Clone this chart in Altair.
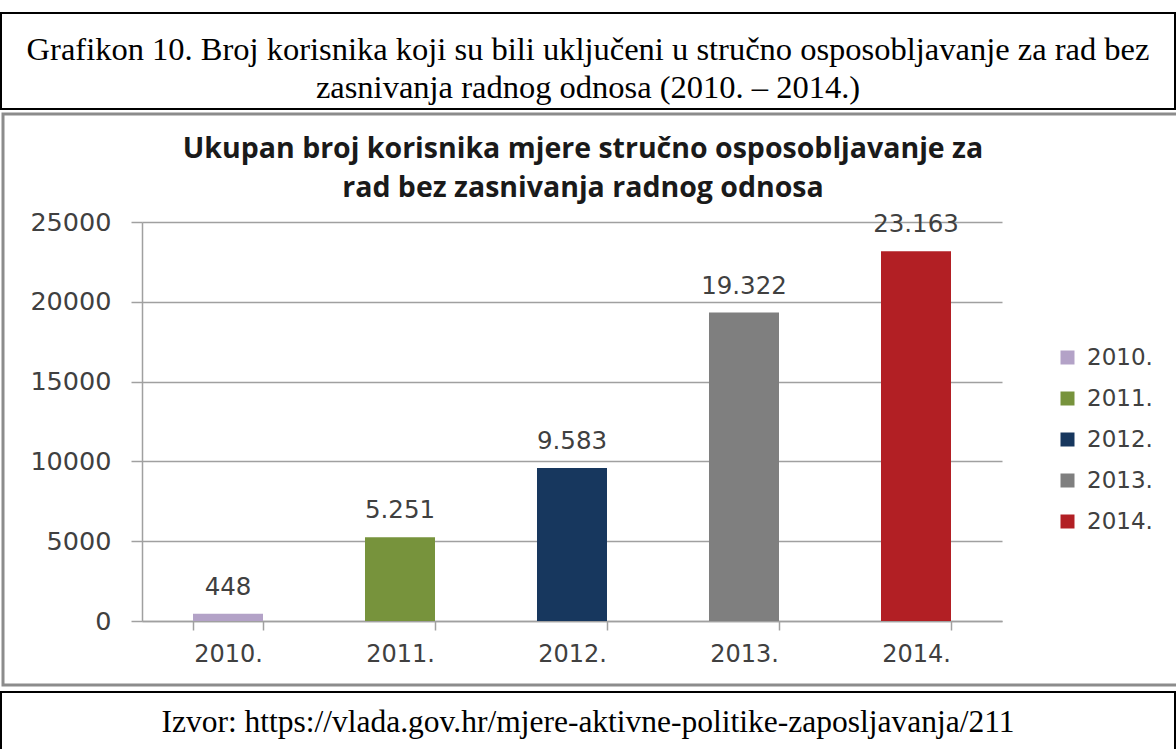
import altair as alt
import pandas as pd

years = ["2010.", "2011.", "2012.", "2013.", "2014."]
values = [448, 5251, 9583, 19322, 23163]
value_labels = ["448", "5.251", "9.583", "19.322", "23.163"]
colors = ["#b3a2c7", "#77933c", "#17375e", "#7f7f7f", "#b21f24"]
y_ticks = [0, 5000, 10000, 15000, 20000, 25000]

caption_lines = [
    "Grafikon 10. Broj korisnika koji su bili uključeni u stručno osposobljavanje za rad bez",
    "zasnivanja radnog odnosa (2010. – 2014.)",
]
chart_title_lines = [
    "Ukupan broj korisnika mjere stručno osposobljavanje za",
    "rad bez zasnivanja radnog odnosa",
]
source_text = "Izvor: https://vlada.gov.hr/mjere-aktivne-politike-zaposljavanja/211"

df = pd.DataFrame({"year": years, "value": values, "label": value_labels})
one = pd.DataFrame({"k": [0]})

AX_FONT = "DejaVu Sans"
LBL_COLOR = "#404040"

x_enc = alt.X(
    "year:N",
    sort=years,
    scale=alt.Scale(paddingInner=0.593, paddingOuter=0.2965),
    axis=alt.Axis(
        title=None, labelAngle=0, tickBand="extent", labelFont=AX_FONT,
        labelFontSize=24, labelColor=LBL_COLOR, labelPadding=12, tickSize=9,
        tickColor="#a0a0a0", domainColor="#a0a0a0", tickWidth=1.5, domainWidth=1.5,
        grid=False,
    ),
)
y_enc = alt.Y(
    "value:Q",
    scale=alt.Scale(domain=[0, 25000], nice=False),
    axis=alt.Axis(
        title=None, values=y_ticks, format="d", labelFont=AX_FONT, labelFontSize=25.5,
        labelColor=LBL_COLOR, labelPadding=20, tickSize=11, tickColor="#a0a0a0",
        domainColor="#a0a0a0", gridColor="#a0a0a0", tickWidth=1.5, domainWidth=1.5,
        gridWidth=1.5,
    ),
)

bars = alt.Chart(df).mark_bar(opacity=1).encode(
    x=x_enc,
    y=y_enc,
    color=alt.Color(
        "year:N",
        scale=alt.Scale(domain=years, range=colors),
        legend=alt.Legend(
            title=None, orient="none", legendX=914, legendY=124, symbolType="square",
            symbolSize=196, symbolStrokeWidth=0, labelFont=AX_FONT, labelFontSize=23,
            labelColor=LBL_COLOR, rowPadding=17, labelOffset=8, padding=0,
        ),
    ),
)

labels = alt.Chart(df).mark_text(
    baseline="alphabetic", dy=-19, font=AX_FONT, fontSize=24.5, color=LBL_COLOR
).encode(x=alt.X("year:N", sort=years), y="value:Q", text="label:N")

def box(x1, x2, y1, y2, stroke, sw):
    return alt.Chart(one).mark_rect(fillOpacity=0, stroke=stroke, strokeWidth=sw).encode(
        x=alt.value(x1), x2=alt.value(x2), y=alt.value(y1), y2=alt.value(y2)
    )

def txt(s, xv, yv, font, size, bold=False, color="black"):
    return alt.Chart(one).mark_text(
        font=font, fontSize=size, fontWeight="bold" if bold else "normal",
        align="center", baseline="middle", color=color,
    ).encode(x=alt.value(xv), y=alt.value(yv), text=alt.value(s))

layers = [
    box(-141, 1033, -209, -113, "black", 2),
    box(-139, 1036, -108, 463, "#8c8c8c", 3),
    box(-141, 1033, 470, 540, "black", 2),
    txt(caption_lines[0], 446, -172, "Liberation Serif", 32.5),
    txt(caption_lines[1], 446, -134, "Liberation Serif", 32.5),
    txt(chart_title_lines[0], 441, -73, "Open Sans", 28.5, bold=True, color="#1a1a1a"),
    txt(chart_title_lines[1], 441, -34, "Open Sans", 28.5, bold=True, color="#1a1a1a"),
    txt(source_text, 446, 501, "Liberation Serif", 31.5),
    bars,
    labels,
]

chart = alt.layer(*layers).properties(
    width=860,
    height=399,
    padding={"left": 142, "top": 222, "right": 174, "bottom": 128},
    autosize=alt.AutoSizeParams(type="none"),
    background="white",
).configure_view(stroke=None)

chart.save("out.html", embed_options={"renderer": "svg", "actions": False})
